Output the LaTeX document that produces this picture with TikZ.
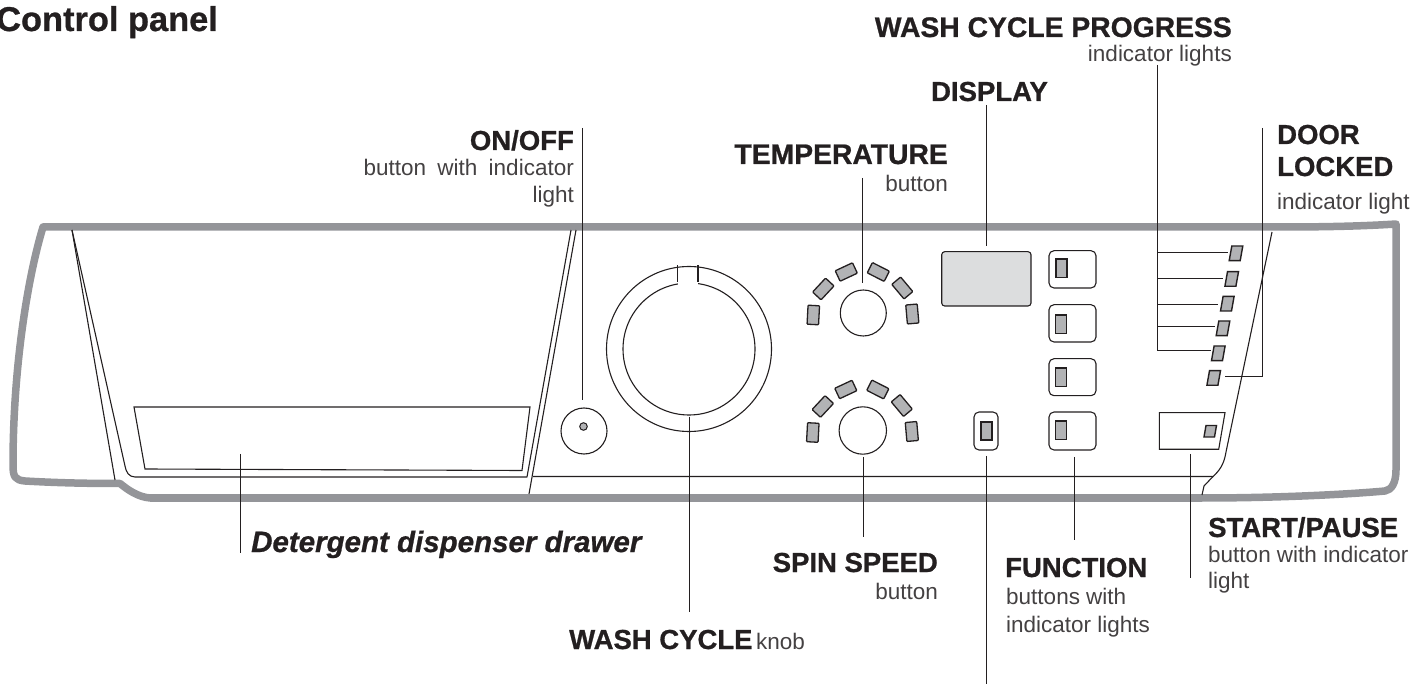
\documentclass[tikz,border=0pt]{standalone}
\usepackage{fontspec}
\setmainfont{Liberation Sans}[BoldFeatures={FakeBold=0.8},BoldItalicFeatures={FakeBold=0.8}]
\definecolor{band}{HTML}{949599}
\definecolor{lit}{HTML}{B2B3B5}
\definecolor{disp}{HTML}{DCDDDE}
\definecolor{ink}{HTML}{231F20}
\tikzset{
  bandline/.style={draw=band,line width=7.5pt,line join=round},
  thin line/.style={draw=ink,line width=1.1pt},
  leader/.style={draw=ink,line width=1pt},
  lamp/.style={draw=ink,line width=1.4pt,fill=lit},
  head/.style={inner sep=0pt,font=\fontsize{27.5}{30}\selectfont\bfseries,text=ink},
  sub/.style={inner sep=0pt,font=\fontsize{22.5}{26}\selectfont,text=ink!85},
  seg/.style={draw=ink,line width=1.3pt,fill=lit,minimum width=11.5pt,minimum height=19pt,inner sep=0pt,rounded corners=0.8pt},
}
\newcommand{\dial}[3]{%
  \begin{scope}[shift={(#1,#2)}]
    \draw[thin line] (0,0) circle[radius=#3pt];
    \node[seg,rotate=-3] at (-50,2) {};
    \node[seg,rotate=-43] at (-40,-24) {};
    \node[seg,rotate=-65] at (-17,-41) {};
    \node[seg,rotate=63] at (15,-41) {};
    \node[seg,rotate=40] at (39,-25) {};
    \node[seg,rotate=5] at (49,1) {};
  \end{scope}}
\newcommand{\para}[3]{\draw[lamp] (#1-5.5+#3,#2-7.3) -- (#1+5.5+#3,#2-7.3) -- (#1+5.5-#3,#2+7.3) -- (#1-5.5-#3,#2+7.3) -- cycle;}
\begin{document}
\begin{tikzpicture}[x=1pt,y=-1pt]
\useasboundingbox (0,0) rectangle (1417,684);
% outline
\draw[bandline] (43,227) .. controls (27,280) and (13,370) .. (13,465) .. controls (13,477) and (15,480) .. (25,481)
  .. controls (60,483) and (90,483.5) .. (120,483.5) .. controls (128,490) and (138,497) .. (150,498)
  -- (1202,498) .. controls (1270,498) and (1340,495) .. (1385,491) .. controls (1392,490) and (1396,482) .. (1396,470)
  -- (1396,224) .. controls (1350,227) and (1300,227) .. (1270,227) -- cycle;
% inner panel lines
\draw[thin line] (72,230) -- (115,480);
\draw[thin line,line join=round] (72,230) -- (125,466) .. controls (126,472) and (129,477) .. (135,477) -- (527,477) -- (571,230);
\draw[thin line] (576,230) -- (529,494);
\draw[thin line] (533,476.5) -- (1213,476.5) .. controls (1219,471) and (1224,465) .. (1226,452) -- (1272,232);
\draw[thin line] (1213,476.5) -- (1204,486) -- (1202,495);
\draw[thin line] (134,407) -- (530,407) -- (522,470.5) -- (145,469) -- cycle;
% on/off
\draw[thin line] (584,431) circle[radius=23pt];
\draw[line width=1pt,draw=ink,fill=lit] (583.5,426.5) circle[radius=3.8pt];
% knob
\draw[thin line] (689,349) circle[radius=82.5pt];
\draw[thin line] (689,349) circle[radius=66pt];
\fill[white] (678,270) rectangle (697.5,290);
\draw[thin line] (677.5,265.5) -- (677.5,282.5);
\draw[thin line] (698,265.5) -- (698,282.5);
% dials
\dial{863.3}{313}{23}
\dial{862.8}{430.5}{23.7}
% display
\draw[thin line,fill=disp,rounded corners=3pt] (941.7,251.7) rectangle (1031,306);
% function buttons
\foreach \yt/\yb/\lt/\xa in {250.7/288/259/1056,304.7/342/315/1055.5,358.7/395.7/368/1055.5,412/450/421/1055.5}{
  \draw[thin line,rounded corners=5pt] (1049,\yt) rectangle (1096,\yb);
  \draw[lamp] (\xa,\lt) rectangle ++(11,18.5);
}
\draw[thin line,rounded corners=5pt] (974,412) rectangle (998,450);
\draw[lamp] (981,422) rectangle (992,440);
% progress lights
\para{1236}{253.3}{1.3}
\para{1231.7}{279}{1.3}
\para{1227.3}{303.7}{1.3}
\para{1223}{328.3}{1.3}
\para{1218.3}{353.3}{1.3}
\para{1213.7}{378}{1.3}
% start button
\draw[thin line] (1159.3,412.7) -- (1225,412.7) -- (1218.7,449.3) -- (1159.3,449.3) -- cycle;
\draw[lamp] (1206,425.5) -- (1216.5,425.5) -- (1214.5,437) -- (1204,437) -- cycle;
% labels
\node[head,font=\fontsize{34.4}{36}\selectfont\bfseries,anchor=base west] (title) at (-4,31) {Control panel};
\node[head,font=\fontsize{28.3}{30}\selectfont\bfseries,anchor=base east] (progress) at (1232,37) {WASH CYCLE PROGRESS};
\node[sub,anchor=base east] (progressSub) at (1232,62) {indicator lights};
\node[head,anchor=base east] (display) at (1048,101) {DISPLAY};
\node[head,anchor=base west] (door) at (1277,144) {DOOR};
\node[head,anchor=base west] (locked) at (1277,176) {LOCKED};
\node[sub,anchor=base west] (doorSub) at (1277,210) {indicator light};
\node[head,anchor=base east] (onoff) at (574,150) {ON/OFF};
\node[sub,anchor=base east] (onoffSub) at (574,176) {button\hspace{5pt} with\hspace{5pt} indicator};
\node[sub,anchor=base east] (onoffSubb) at (574,203) {light};
\node[head,font=\fontsize{28.3}{30}\selectfont\bfseries,anchor=base east] (temp) at (948,164) {TEMPERATURE};
\node[sub,anchor=base east] (tempSub) at (948,192) {button};
\node[head,font=\fontsize{29.5}{32}\selectfont\bfseries\itshape,anchor=base west] (drawer) at (251,552) {Detergent dispenser drawer};
\node[head,anchor=base east] (spin) at (938,572) {SPIN SPEED};
\node[sub,anchor=base east] (spinSub) at (938,599) {button};
\node[head,anchor=base west] (washc) at (569,649) {WASH CYCLE};
\node[sub,anchor=base west] (washk) at (756,649) {knob};
\node[head,anchor=base west] (func) at (1005,577) {FUNCTION};
\node[sub,anchor=base west] (funcSub) at (1006,604) {buttons with};
\node[sub,anchor=base west] (funcSubb) at (1006,632) {indicator lights};
\node[head,anchor=base west] (start) at (1208,537) {START/PAUSE};
\node[sub,anchor=base west] (startSub) at (1208,562) {button with indicator};
\node[sub,anchor=base west] (startSubb) at (1208,588) {light};
% leaders
\draw[leader] (582.5,128) -- (582.5,400);
\draw[leader] (862.3,178) -- (862.3,283);
\draw[leader] (986,105) -- (986,245.7);
\draw[leader] (863.3,457) -- (863.3,537);
\draw[leader] (986,456) -- (986,684);
\draw[leader] (1074.3,457) -- (1074.3,540);
\draw[leader] (689.7,416.7) -- (689.7,612);
\draw[leader] (240,454) -- (240,553);
\draw[leader] (1190,454) -- (1190,578);
\draw[leader] (1157.3,65) -- (1157.3,350.7) -- (1211,350.7);
\draw[leader] (1157.3,253) -- (1228,253);
\draw[leader] (1157.3,279) -- (1223,279);
\draw[leader] (1157.3,304.5) -- (1218,304.5);
\draw[leader] (1157.3,327) -- (1215,327);
\draw[leader] (1262.7,128) -- (1262.7,376.7) -- (1225,376.7);
\end{tikzpicture}
\end{document}
